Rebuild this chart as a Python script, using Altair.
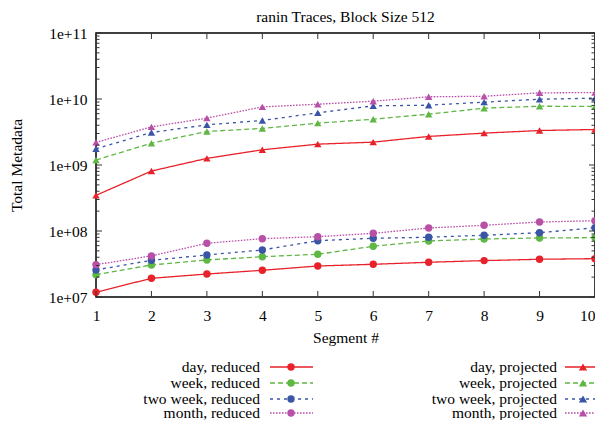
import altair as alt
import pandas as pd

# ---------------- data ----------------
segments = [1, 2, 3, 4, 5, 6, 7, 8, 9, 10]

day_reduced = [1.18e7, 1.92e7, 2.23e7, 2.54e7, 2.95e7, 3.13e7, 3.36e7, 3.56e7, 3.73e7, 3.81e7]
week_reduced = [2.18e7, 3.06e7, 3.64e7, 4.08e7, 4.44e7, 5.87e7, 7.06e7, 7.57e7, 7.84e7, 7.93e7]
twoweek_reduced = [2.57e7, 3.60e7, 4.33e7, 5.16e7, 7.13e7, 7.76e7, 8.04e7, 8.61e7, 9.42e7, 1.12e8]
month_reduced = [3.09e7, 4.19e7, 6.52e7, 7.65e7, 8.20e7, 9.22e7, 1.11e8, 1.22e8, 1.37e8, 1.43e8]

day_projected = [3.47e8, 8.1e8, 1.26e9, 1.70e9, 2.07e9, 2.22e9, 2.71e9, 3.04e9, 3.33e9, 3.45e9]
week_projected = [1.19e9, 2.14e9, 3.22e9, 3.58e9, 4.31e9, 4.94e9, 5.89e9, 7.26e9, 7.78e9, 7.70e9]
twoweek_projected = [1.76e9, 3.11e9, 4.06e9, 4.73e9, 6.17e9, 7.87e9, 8.06e9, 8.96e9, 9.93e9, 1.03e10]
month_projected = [2.20e9, 3.78e9, 5.13e9, 7.59e9, 8.34e9, 9.27e9, 1.08e10, 1.10e10, 1.24e10, 1.25e10]

series_names = [
    "day, reduced", "week, reduced", "two week, reduced", "month, reduced",
    "day, projected", "week, projected", "two week, projected", "month, projected",
]
series_values = [
    day_reduced, week_reduced, twoweek_reduced, month_reduced,
    day_projected, week_projected, twoweek_projected, month_projected,
]

major_ticks = [1e7, 1e8, 1e9, 1e10, 1e11]
minor_ticks = [m * 10 ** d for d in range(7, 11) for m in range(2, 10)]

title_text = "ranin Traces, Block Size 512"
x_title = "Segment #"
y_title = "Total Metadata"

# ---------------- styles ----------------
FONT = "Liberation Serif"
FS = 15.5
base_colors = ["#e8222a", "#5fb744", "#3a55a5", "#b850a8"]
base_dashes = [[1, 0], [5, 3], [3, 4], [1.6, 1.4]]
colors = base_colors * 2
dashes = base_dashes * 2
shapes = ["circle"] * 4 + ["triangle-up"] * 4
sizes = [55] * 4 + [70] * 4

W, H = 499, 264

rows = []
for name, vals in zip(series_names, series_values):
    for s, v in zip(segments, vals):
        rows.append({"series": name, "segment": s, "value": v})
df = pd.DataFrame(rows)

xs = alt.Scale(domain=[1, 10], nice=False, zero=False)
ys = alt.Scale(type="log", domain=[1e7, 1e11], nice=False)

color_enc = alt.Color("series:N", scale=alt.Scale(domain=series_names, range=colors), legend=None)
dash_enc = alt.StrokeDash("series:N", scale=alt.Scale(domain=series_names, range=dashes), legend=None)
shape_enc = alt.Shape("series:N", scale=alt.Scale(domain=series_names, range=shapes), legend=None)
size_enc = alt.Size("series:N", scale=alt.Scale(domain=series_names, range=sizes), legend=None)

x_axis = alt.Axis(
    values=segments, format="d", title=x_title, labelFlush=False, labelOverlap=False,
    labelPadding=11, titleX=W / 2, titleY=40, titleBaseline="middle", titleAlign="center",
    labelAlign={"condition": {"test": "datum.value == 10", "value": "right"}, "value": "center"},
)
y_axis = alt.Axis(
    values=major_ticks, title=y_title, labelFlush=False, labelOverlap=False, labelPadding=9,
    labelExpr="'1e+' + (round(log(datum.value)/LN10) < 10 ? '0' : '') + round(log(datum.value)/LN10)",
    titleX=-80, titleY=H / 2, titleAngle=270, titleAlign="center", titleBaseline="middle",
)

X = alt.X("segment:Q", scale=xs, axis=x_axis)
Y = alt.Y("value:Q", scale=ys, axis=y_axis)

lines = alt.Chart(df).mark_line(strokeWidth=1.3).encode(
    x=X, y=Y, color=color_enc, strokeDash=dash_enc, detail="series:N",
)

points = alt.Chart(df).mark_point(filled=True, opacity=1).encode(
    x=X, y=Y, color=color_enc, shape=shape_enc, size=size_enc,
)

# inward ticks
tick_color = "#333"
ymaj = pd.DataFrame({"value": major_ticks})
ymin = pd.DataFrame({"value": minor_ticks})
xt = pd.DataFrame({"segment": segments})

def yticks(d, length):
    left = alt.Chart(d).mark_rule(color=tick_color, strokeWidth=1).encode(
        y=Y, x=alt.value(0), x2=alt.value(length))
    right = alt.Chart(d).mark_rule(color=tick_color, strokeWidth=1).encode(
        y=Y, x=alt.value(W), x2=alt.value(W - length))
    return [left, right]

xtick_bot = alt.Chart(xt).mark_rule(color=tick_color, strokeWidth=1).encode(
    x=X, y=alt.value(H), y2=alt.value(H - 6))
xtick_top = alt.Chart(xt).mark_rule(color=tick_color, strokeWidth=1).encode(
    x=X, y=alt.value(0), y2=alt.value(6))

title_layer = alt.Chart(pd.DataFrame({"t": [title_text]})).mark_text(
    font=FONT, fontSize=FS, align="center", baseline="middle", color="black"
).encode(text="t:N", x=alt.value(W / 2), y=alt.value(-16))

# custom legend (label, then line sample with marker)
legend_layers = []
row_y = [334, 350, 366, 380]
col_text_x = [164, 461]
col_line = [(174, 217), (469, 520)]
col_mark = [195, 487]
for i, name in enumerate(series_names):
    c, r = i // 4, i % 4
    ld = pd.DataFrame({"label": [name]})
    legend_layers.append(
        alt.Chart(ld).mark_text(font=FONT, fontSize=FS, align="right", baseline="middle", color="black")
        .encode(text="label:N", x=alt.value(col_text_x[c]), y=alt.value(row_y[r]))
    )
    legend_layers.append(
        alt.Chart(ld).mark_rule(color=colors[i], strokeWidth=1.3, strokeDash=dashes[i])
        .encode(x=alt.value(col_line[c][0]), x2=alt.value(col_line[c][1]), y=alt.value(row_y[r]))
    )
    legend_layers.append(
        alt.Chart(ld).mark_point(filled=True, size=sizes[i], opacity=1, color=colors[i], shape=shapes[i])
        .encode(x=alt.value(col_mark[c]), y=alt.value(row_y[r]))
    )

chart = alt.layer(
    lines, points, *yticks(ymaj, 6), *yticks(ymin, 3.5), xtick_bot, xtick_top,
    title_layer, *legend_layers,
).properties(
    width=W, height=H,
    autosize=alt.AutoSizeParams(type="none"),
    padding={"left": 88, "top": 25, "right": 0, "bottom": 123},
).configure_view(
    stroke="black", strokeWidth=1.5
).configure_axis(
    grid=False, domain=False, ticks=False, tickSize=0,
    labelFont=FONT, labelFontSize=FS, labelColor="black",
    titleFont=FONT, titleFontSize=FS, titleColor="black", titleFontWeight="normal",
)

chart.save("out.html", embed_options={"renderer": "svg", "actions": False})
